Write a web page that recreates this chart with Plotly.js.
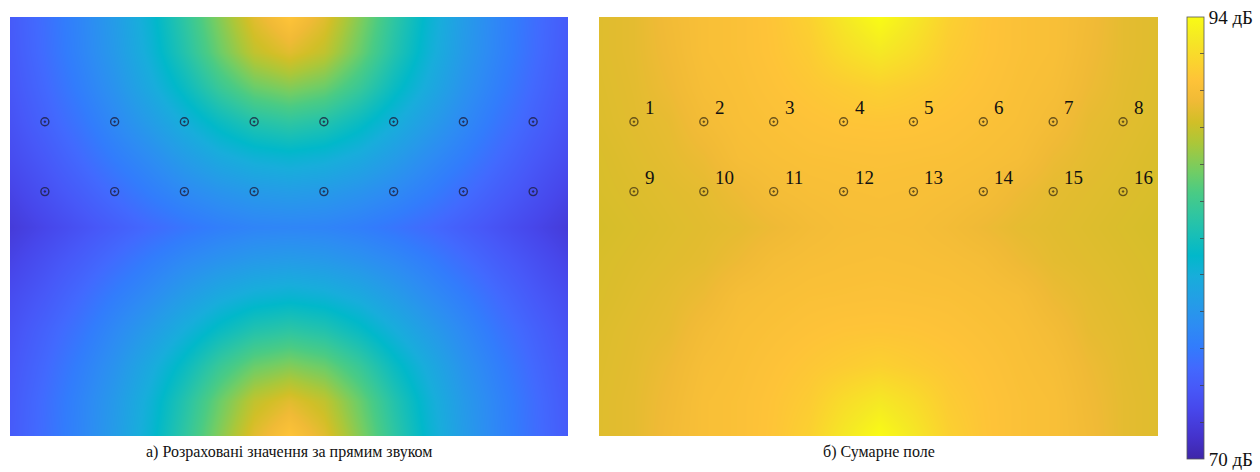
<!DOCTYPE html>
<html>
<head>
<meta charset="utf-8">
<script src="https://cdn.plot.ly/plotly-3.0.1.min.js"></script>
<style>html,body{margin:0;padding:0;background:#fff;}#chart{width:1260px;height:472px;}</style>
</head>
<body>
<div id="chart"></div>
<script>
// grid coordinates (room units)
var xs = [0,1,2,3,4,5,6,7,8,9,10,11,12,13,14,15,16];
var ys = [0,1,2,3,4,5,6,7,8,9,10,11,12];

// a) direct sound levels, dB (rows y=0..12)
var zDirect = [
 [74.0,75.3,76.8,78.5,80.6,83.2,86.1,88.9,90.6,88.9,86.1,83.2,80.6,78.5,76.8,75.3,74.0],
 [73.9,75.2,76.7,78.3,80.3,82.7,85.4,87.8,88.9,87.8,85.4,82.7,80.3,78.3,76.7,75.2,73.9],
 [73.7,74.9,76.3,77.8,79.6,81.5,83.7,85.4,86.1,85.4,83.7,81.5,79.6,77.8,76.3,74.9,73.7],
 [73.4,74.5,75.7,77.1,78.5,80.0,81.5,82.7,83.2,82.7,81.5,80.0,78.5,77.1,75.7,74.5,73.4],
 [73.0,73.9,75.0,76.2,77.3,78.5,79.6,80.3,80.6,80.3,79.6,78.5,77.3,76.2,75.0,73.9,73.0],
 [72.4,73.3,74.2,75.2,76.2,77.1,77.8,78.3,78.5,78.3,77.8,77.1,76.2,75.2,74.2,73.3,72.4],
 [71.8,72.6,73.4,74.2,75.0,75.7,76.3,76.7,76.8,76.7,76.3,75.7,75.0,74.2,73.4,72.6,71.8],
 [72.4,73.3,74.2,75.2,76.2,77.1,77.8,78.3,78.5,78.3,77.8,77.1,76.2,75.2,74.2,73.3,72.4],
 [73.0,73.9,75.0,76.2,77.3,78.5,79.6,80.3,80.6,80.3,79.6,78.5,77.3,76.2,75.0,73.9,73.0],
 [73.4,74.5,75.7,77.1,78.5,80.0,81.5,82.7,83.2,82.7,81.5,80.0,78.5,77.1,75.7,74.5,73.4],
 [73.7,74.9,76.3,77.8,79.6,81.5,83.7,85.4,86.1,85.4,83.7,81.5,79.6,77.8,76.3,74.9,73.7],
 [73.9,75.2,76.7,78.3,80.3,82.7,85.4,87.8,88.9,87.8,85.4,82.7,80.3,78.3,76.7,75.2,73.9],
 [74.0,75.3,76.8,78.5,80.6,83.2,86.1,88.9,90.6,88.9,86.1,83.2,80.6,78.5,76.8,75.3,74.0]
];

// б) total field levels, dB (rows y=0..12)
var zTotal = [
 [88.8,89.0,89.6,90.1,90.3,90.7,91.4,92.8,94.0,92.8,91.4,90.7,90.3,90.1,89.6,89.0,88.8],
 [88.8,89.0,89.5,90.1,90.3,90.65,91.1,92.1,92.8,92.1,91.1,90.65,90.3,90.1,89.5,89.0,88.8],
 [88.75,88.95,89.35,89.95,90.2,90.5,90.8,91.1,91.4,91.1,90.8,90.5,90.2,89.95,89.35,88.95,88.75],
 [88.7,88.9,89.1,89.7,90.1,90.3,90.5,90.65,90.7,90.65,90.5,90.3,90.1,89.7,89.1,88.9,88.7],
 [88.6,88.8,89.0,89.3,89.9,90.1,90.25,90.3,90.35,90.3,90.25,90.1,89.9,89.3,89.0,88.8,88.6],
 [88.55,88.7,88.85,89.0,89.35,89.8,90.0,90.1,90.15,90.1,90.0,89.8,89.35,89.0,88.85,88.7,88.55],
 [88.45,88.6,88.75,88.9,89.05,89.35,89.7,89.95,90.0,89.95,89.7,89.35,89.05,88.9,88.75,88.6,88.45],
 [88.55,88.7,88.85,89.0,89.35,89.8,90.0,90.1,90.15,90.1,90.0,89.8,89.35,89.0,88.85,88.7,88.55],
 [88.6,88.8,89.0,89.3,89.9,90.1,90.25,90.3,90.35,90.3,90.25,90.1,89.9,89.3,89.0,88.8,88.6],
 [88.7,88.9,89.1,89.7,90.1,90.3,90.5,90.65,90.7,90.65,90.5,90.3,90.1,89.7,89.1,88.9,88.7],
 [88.75,88.95,89.35,89.95,90.2,90.5,90.8,91.1,91.4,91.1,90.8,90.5,90.2,89.95,89.35,88.95,88.75],
 [88.8,89.0,89.5,90.1,90.3,90.65,91.1,92.1,92.8,92.1,91.1,90.65,90.3,90.1,89.5,89.0,88.8],
 [88.8,89.0,89.6,90.1,90.3,90.7,91.4,92.8,94.0,92.8,91.4,90.7,90.3,90.1,89.6,89.0,88.8]
];

// measurement points
var pointX = [1,3,5,7,9,11,13,15, 1,3,5,7,9,11,13,15];
var pointY = [9,9,9,9,9,9,9,9, 7,7,7,7,7,7,7,7];
var pointLabels = ['1','2','3','4','5','6','7','8','9','10','11','12','13','14','15','16'];

var panelTitles = ['а) Розраховані значення за прямим звуком', 'б) Сумарне поле'];
var cbTickVals = [70,72,74,76,78,80,82,84,86,88,90,92,94];
var cbTickText = ['70 дБ','','','','','','','','','','','','94 дБ'];

var parula = [
 [0/63,'rgb(62,38,168)'],[3/63,'rgb(68,50,203)'],[7/63,'rgb(71,71,235)'],
 [10/63,'rgb(71,88,248)'],[13/63,'rgb(66,105,254)'],[16/63,'rgb(50,124,252)'],
 [19/63,'rgb(45,140,243)'],[22/63,'rgb(37,155,232)'],[26/63,'rgb(24,173,219)'],
 [29/63,'rgb(1,184,202)'],[32/63,'rgb(25,191,182)'],[35/63,'rgb(49,198,159)'],
 [38/63,'rgb(74,203,132)'],[41/63,'rgb(114,205,100)'],[45/63,'rgb(171,199,57)'],
 [48/63,'rgb(209,191,39)'],[51/63,'rgb(240,186,54)'],[54/63,'rgb(254,195,56)'],
 [57/63,'rgb(250,214,45)'],[60/63,'rgb(245,233,36)'],[63/63,'rgb(249,251,21)']
];

var serif = 'Liberation Serif';

var traces = [
 {type:'heatmap', x:xs, y:ys, z:zDirect, coloraxis:'coloraxis', zsmooth:'best', xaxis:'x', yaxis:'y', hoverinfo:'skip'},
 {type:'heatmap', x:xs, y:ys, z:zTotal, coloraxis:'coloraxis', zsmooth:'best', xaxis:'x2', yaxis:'y2', hoverinfo:'skip'},
 {type:'scatter', mode:'markers', x:pointX, y:pointY, xaxis:'x', yaxis:'y', hoverinfo:'skip',
  marker:{symbol:'circle-open-dot', size:8, color:'rgba(30,30,60,0.8)', line:{width:1.4}}},
 {type:'scatter', mode:'markers', x:pointX, y:pointY, xaxis:'x2', yaxis:'y2', hoverinfo:'skip',
  marker:{symbol:'circle-open-dot', size:8, color:'rgba(70,55,20,0.8)', line:{width:1.4}}}
];

var annotations = [];
for (var i = 0; i < pointLabels.length; i++) {
  annotations.push({x:pointX[i], y:pointY[i], xref:'x2', yref:'y2', text:pointLabels[i], showarrow:false,
    xanchor:'left', yanchor:'middle', xshift:9, yshift:14, font:{family:serif, size:19, color:'#111'}});
}
annotations.push({x:(10+568)/2/1260, y:1-452/472, xref:'paper', yref:'paper', text:panelTitles[0], showarrow:false,
  xanchor:'center', yanchor:'middle', font:{family:serif, size:16, color:'#111'}});
annotations.push({x:(599+1158)/2/1260, y:1-452/472, xref:'paper', yref:'paper', text:panelTitles[1], showarrow:false,
  xanchor:'center', yanchor:'middle', font:{family:serif, size:16, color:'#111'}});

var ax = {visible:false, fixedrange:true};
var layout = {
  width:1260, height:472,
  margin:{l:0, r:0, t:0, b:0},
  paper_bgcolor:'#fff', plot_bgcolor:'#fff',
  showlegend:false,
  xaxis: Object.assign({domain:[10/1260, 568/1260], range:[0,16]}, ax),
  yaxis: Object.assign({domain:[36/472, 455/472], range:[0,12]}, ax),
  xaxis2: Object.assign({domain:[599/1260, 1158/1260], range:[0,16]}, ax),
  yaxis2: Object.assign({domain:[36/472, 455/472], range:[0,12]}, ax),
  coloraxis:{cmin:70, cmax:94, colorscale:parula,
    colorbar:{x:1187/1260, xanchor:'left', xpad:0, y:455/472, yanchor:'top', ypad:0,
      len:442/472, lenmode:'fraction', thickness:17, thicknessmode:'pixels',
      outlinewidth:0.8, outlinecolor:'#555',
      tickmode:'array', tickvals:cbTickVals, ticktext:cbTickText, ticklabeloverflow:'allow',
      ticks:'inside', ticklen:4, tickwidth:0.8, tickcolor:'#444',
      tickfont:{family:serif, size:19, color:'#111'}}},
  annotations:annotations
};

Plotly.newPlot('chart', traces, layout, {staticPlot:true, displayModeBar:false});
</script>
</body>
</html>
